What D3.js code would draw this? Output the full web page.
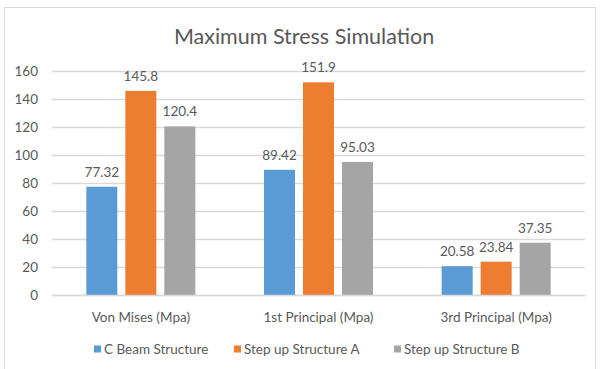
<!DOCTYPE html>
<html>
<head>
<meta charset="utf-8">
<script src="https://cdn.jsdelivr.net/npm/d3@7"></script>
<style>
  html, body { margin: 0; padding: 0; background: #fff; }
  svg { display: block; font-family: Lato, "Open Sans", sans-serif; }
</style>
</head>
<body>
<svg id="chart" width="600" height="369"></svg>
<script>
// Chart data
const categories = ["Von Mises (Mpa)", "1st Principal (Mpa)", "3rd Principal (Mpa)"];
const seriesNames = ["C Beam Structure", "Step up Structure A", "Step up Structure B"];
const cBeam = [77.32, 89.42, 20.58];
const stepUpA = [145.8, 151.9, 23.84];
const stepUpB = [120.4, 95.03, 37.35];
const yTicks = [0, 20, 40, 60, 80, 100, 120, 140, 160];
const colors = ["#5B9BD5", "#ED7D31", "#A5A5A5"];

const seriesValues = [cBeam, stepUpA, stepUpB];
const labelFmt = v => String(v);

const svg = d3.select("#chart");
const W = 600, H = 369;
const plot = { left: 52, right: 585, top: 71, bottom: 295 };

// chart area border
svg.append("rect")
  .attr("x", 4.5).attr("y", 7.5)
  .attr("width", 591).attr("height", 380)
  .attr("fill", "#fff").attr("stroke", "#D9D9D9").attr("stroke-width", 1);

// title
svg.append("text")
  .attr("x", 304).attr("y", 43.5)
  .attr("text-anchor", "middle")
  .attr("fill", "#595959")
  .attr("font-size", 21.5)
  .text("Maximum Stress Simulation");

const y = d3.scaleLinear().domain([0, 160]).range([plot.bottom, plot.top]);
const x0 = d3.scaleBand().domain(categories).range([plot.left, plot.right]).padding(0);
const x1 = d3.scaleBand().domain(seriesNames).range([0, x0.bandwidth()])
  .paddingInner(0.205).paddingOuter(0.88);

// gridlines and value axis
const yAxis = d3.axisLeft(y).tickValues(yTicks).tickSize(-(plot.right - plot.left)).tickPadding(14);
const gy = svg.append("g").attr("transform", `translate(${plot.left},0)`).call(yAxis);
gy.select(".domain").remove();
gy.selectAll(".tick line").attr("stroke", "#D9D9D9").attr("stroke-width", 1.3);
gy.selectAll(".tick text")
  .attr("fill", "#595959").attr("font-size", 13.5)
  .attr("font-family", "Lato, 'Open Sans', sans-serif");

// bars
const groups = svg.append("g").selectAll("g")
  .data(categories)
  .join("g")
  .attr("transform", d => `translate(${x0(d)},0)`);

const cells = groups.selectAll("g")
  .data((cat, ci) => seriesNames.map((s, si) => ({ series: s, si, value: seriesValues[si][ci] })))
  .join("g");

cells.append("rect")
  .attr("x", d => x1(d.series))
  .attr("y", d => y(d.value))
  .attr("width", x1.bandwidth())
  .attr("height", d => y(0) - y(d.value))
  .attr("fill", d => colors[d.si]);

cells.append("text")
  .attr("x", d => x1(d.series) + x1.bandwidth() / 2)
  .attr("y", d => y(d.value) - 10)
  .attr("text-anchor", "middle")
  .attr("fill", "#595959")
  .attr("font-size", 13.5)
  .text(d => labelFmt(d.value));

// category axis
const xAxis = d3.axisBottom(x0).tickSize(0).tickPadding(17);
const gx = svg.append("g").attr("transform", `translate(0,${plot.bottom})`).call(xAxis);
gx.select(".domain").attr("stroke", "#D9D9D9").attr("stroke-width", 1.3);
gx.selectAll(".tick text")
  .attr("fill", "#595959").attr("font-size", 13.5)
  .attr("font-family", "Lato, 'Open Sans', sans-serif");

// legend
const legendX = [94, 234, 394];
const legend = svg.append("g").selectAll("g")
  .data(seriesNames)
  .join("g")
  .attr("transform", (d, i) => `translate(${legendX[i]},349)`);
legend.append("rect")
  .attr("x", 0).attr("y", -3.5).attr("width", 7).attr("height", 7)
  .attr("fill", (d, i) => colors[i]);
legend.append("text")
  .attr("x", 10).attr("y", 0).attr("dy", "0.35em")
  .attr("fill", "#595959").attr("font-size", 13.5)
  .text(d => d);
</script>
</body>
</html>
